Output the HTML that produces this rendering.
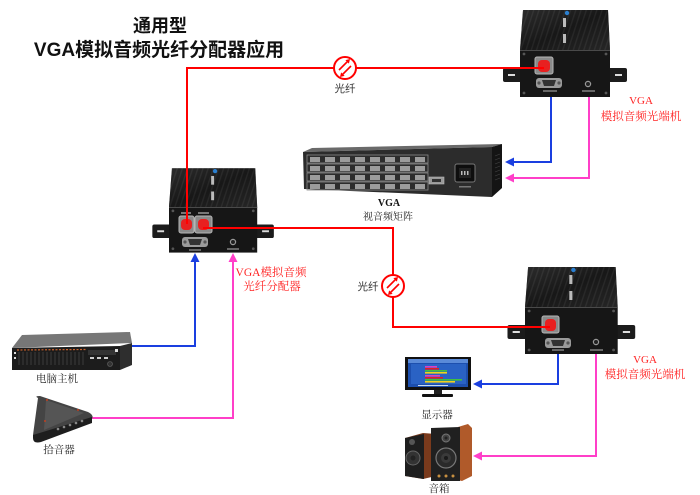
<!DOCTYPE html>
<html><head><meta charset="utf-8">
<style>
html,body{margin:0;padding:0;background:#fff;}
svg{display:block;}
.t{font-family:"Liberation Sans","Noto Sans CJK SC",sans-serif;}
.s{font-family:"Liberation Serif","Noto Serif CJK SC",serif;}
</style></head><body>
<svg width="700" height="495" viewBox="0 0 700 495" xmlns="http://www.w3.org/2000/svg">
<defs>
<linearGradient id="topg" x1="0" y1="0" x2="1" y2="1">
<stop offset="0" stop-color="#3a3a3a"/><stop offset="0.5" stop-color="#151515"/><stop offset="1" stop-color="#303030"/>
</linearGradient>
<pattern id="fins" width="5" height="5" patternUnits="userSpaceOnUse" patternTransform="rotate(18)">
<rect width="5" height="5" fill="#1a1a1a"/><rect width="1.4" height="5" fill="#383838"/>
</pattern>
<g id="dev">
 <rect x="-17" y="18" width="20" height="14" rx="2" fill="#1c1c1c"/>
 <rect x="-12" y="24" width="7" height="2" fill="#ddd"/>
 <rect x="87" y="18" width="20" height="14" rx="2" fill="#1c1c1c"/>
 <rect x="95" y="24" width="7" height="2" fill="#ddd"/>
 <polygon points="3,-40 88,-40 90,0 0,0" fill="url(#fins)"/>
 <polygon points="3,-40 88,-40 90,0 0,0" fill="url(#topg)" opacity="0.55"/>
 <rect x="0" y="0" width="90" height="47" fill="#161616"/>
 <line x1="0" y1="0.5" x2="90" y2="0.5" stroke="#4a4a4a"/>
 <circle cx="4" cy="4" r="1.4" fill="#555"/><circle cx="86" cy="4" r="1.4" fill="#555"/>
 <circle cx="4" cy="43" r="1.4" fill="#555"/><circle cx="86" cy="43" r="1.4" fill="#555"/>
 <circle cx="47" cy="-37" r="2.2" fill="#2a7fd0"/>
 <rect x="43" y="-32" width="3" height="9" fill="#bbb"/>
 <rect x="43" y="-16" width="3" height="9" fill="#bbb"/>
</g>
<g id="fib">
 <circle cx="0" cy="0" r="11" fill="#fff" stroke="#f00" stroke-width="2"/>
 <line x1="-6" y1="2" x2="3.5" y2="-7.5" stroke="#f00" stroke-width="1.6"/>
 <polygon points="5,-9 3.9,-4.4 0.4,-7.9" fill="#f00"/>
 <line x1="-3.5" y1="7.5" x2="6" y2="-2" stroke="#f00" stroke-width="1.6"/>
 <polygon points="-5,9 -0.4,7.9 -3.9,4.4" fill="#f00"/>
</g>
<g id="vga">
 <rect x="0" y="0" width="26" height="10" rx="3" fill="#9a9a9a"/>
 <polygon points="6,2 20,2 18,8 8,8" fill="#333"/>
 <circle cx="3" cy="5" r="1.6" fill="#555"/><circle cx="23" cy="5" r="1.6" fill="#555"/>
</g>
</defs>

<!-- Title -->
<text x="160" y="32" text-anchor="middle" class="t" font-size="18" font-weight="bold" fill="#111">通用型</text>
<text x="159" y="56" text-anchor="middle" class="t" font-size="19" font-weight="bold" fill="#111">VGA模拟音频光纤分配器应用</text>

<!-- blue / pink lines (under devices) -->
<g fill="none" stroke-width="2">
 <path d="M551,88 V162 H512" stroke="#1a3fe0"/>
 <path d="M589,84 V178 H512" stroke="#ff3fc8"/>
 <path d="M132,346 H195 V260" stroke="#1a3fe0"/>
 <path d="M92,418 H233 V260" stroke="#ff3fc8"/>
 <path d="M558,346 V384 H480" stroke="#1a3fe0"/>
 <path d="M596,342 V456 H480" stroke="#ff3fc8"/>
</g>
<polygon points="505,162 514,157.5 514,166.5" fill="#1a3fe0"/>
<polygon points="505,178 514,173.5 514,182.5" fill="#ff3fc8"/>
<polygon points="195,253 190.5,262 199.5,262" fill="#1a3fe0"/>
<polygon points="233,253 228.5,262 237.5,262" fill="#ff3fc8"/>
<polygon points="473,384 482,379.5 482,388.5" fill="#1a3fe0"/>
<polygon points="473,456 482,451.5 482,460.5" fill="#ff3fc8"/>

<!-- Top-right device -->
<use href="#dev" transform="translate(520,50)"/>
<rect x="535" y="57" width="18" height="17" rx="2" fill="#8a8a8a" stroke="#b5b5b5"/>
<rect x="538" y="60" width="12" height="12" rx="4" fill="#e82020"/>
<use href="#vga" transform="translate(536,78)"/>
<circle cx="588" cy="84" r="2.6" fill="#222" stroke="#999" stroke-width="1.2"/>
<rect x="543" y="90" width="14" height="2" fill="#666"/><rect x="582" y="90" width="13" height="2" fill="#666"/>

<!-- Center device -->
<use href="#dev" transform="translate(169,207) scale(0.98,0.97)"/>
<rect x="179" y="216" width="15" height="17" rx="2" fill="#8a8a8a" stroke="#b5b5b5"/>
<rect x="195" y="216" width="17" height="17" rx="2" fill="#8a8a8a" stroke="#b5b5b5"/>
<rect x="181" y="219" width="11" height="11" rx="4" fill="#e82020"/>
<rect x="198" y="219" width="11" height="11" rx="4" fill="#e82020"/>
<rect x="181" y="212" width="10" height="2" fill="#777"/><rect x="198" y="212" width="11" height="2" fill="#777"/>
<use href="#vga" transform="translate(182,237)"/>
<circle cx="233" cy="242" r="2.6" fill="#222" stroke="#999" stroke-width="1.2"/>
<rect x="189" y="249" width="12" height="2" fill="#666"/><rect x="227" y="248" width="12" height="2" fill="#666"/>

<!-- Bottom device -->
<use href="#dev" transform="translate(525,307) scale(1.03,1.0)"/>
<rect x="542" y="316" width="17" height="17" rx="2" fill="#8a8a8a" stroke="#b5b5b5"/>
<rect x="545" y="319" width="11" height="12" rx="4" fill="#e82020"/>
<use href="#vga" transform="translate(545,338)"/>
<circle cx="596" cy="342" r="2.6" fill="#222" stroke="#999" stroke-width="1.2"/>
<rect x="552" y="349" width="12" height="2" fill="#666"/><rect x="590" y="349" width="13" height="2" fill="#666"/>

<!-- Red fiber lines -->
<g fill="none" stroke="#f00" stroke-width="2">
 <path d="M187,224 V68 H544"/>
 <path d="M203,228 H393 V327 H550"/>
</g>
<use href="#fib" transform="translate(345,68)"/>
<use href="#fib" transform="translate(393,286)"/>
<text x="345" y="92" text-anchor="middle" class="t" font-size="10.5" fill="#333">光纤</text>
<text x="368" y="290" text-anchor="middle" class="t" font-size="10.5" fill="#333">光纤</text>

<!-- Matrix -->
<polygon points="303,152 312,148 502,144 492,147" fill="#6a6a6a"/>
<polygon points="303,152 492,147 492,197 304,189" fill="#2c2c2c"/>
<polygon points="492,147 502,144 502,188 492,197" fill="#141414"/>
<g stroke="#444" stroke-width="0.6">
 <line x1="495" y1="156" x2="500" y2="154"/><line x1="495" y1="160" x2="500" y2="158"/><line x1="495" y1="164" x2="500" y2="162"/>
 <line x1="495" y1="168" x2="500" y2="166"/><line x1="495" y1="172" x2="500" y2="170"/>
 <line x1="495" y1="176" x2="500" y2="174"/><line x1="495" y1="180" x2="500" y2="178"/>
</g>
<g fill="none" stroke="#8a8a8a" stroke-width="0.8">
 <rect x="307" y="155" width="121" height="8"/>
 <rect x="307" y="164" width="121" height="8"/>
 <rect x="307" y="173" width="121" height="8"/>
 <rect x="307" y="182" width="121" height="8"/>
</g>
<g fill="#9c9c9c">
 <rect x="310" y="157" width="10" height="5"/><rect x="325" y="157" width="10" height="5"/><rect x="340" y="157" width="10" height="5"/><rect x="355" y="157" width="10" height="5"/><rect x="370" y="157" width="10" height="5"/><rect x="385" y="157" width="10" height="5"/><rect x="400" y="157" width="10" height="5"/><rect x="415" y="157" width="10" height="5"/>
 <rect x="310" y="166" width="10" height="5"/><rect x="325" y="166" width="10" height="5"/><rect x="340" y="166" width="10" height="5"/><rect x="355" y="166" width="10" height="5"/><rect x="370" y="166" width="10" height="5"/><rect x="385" y="166" width="10" height="5"/><rect x="400" y="166" width="10" height="5"/><rect x="415" y="166" width="10" height="5"/>
 <rect x="310" y="175" width="10" height="5"/><rect x="325" y="175" width="10" height="5"/><rect x="340" y="175" width="10" height="5"/><rect x="355" y="175" width="10" height="5"/><rect x="370" y="175" width="10" height="5"/><rect x="385" y="175" width="10" height="5"/><rect x="400" y="175" width="10" height="5"/><rect x="415" y="175" width="10" height="5"/>
 <rect x="310" y="184" width="10" height="5"/><rect x="325" y="184" width="10" height="5"/><rect x="340" y="184" width="10" height="5"/><rect x="355" y="184" width="10" height="5"/><rect x="370" y="184" width="10" height="5"/><rect x="385" y="184" width="10" height="5"/><rect x="400" y="184" width="10" height="5"/><rect x="415" y="184" width="10" height="5"/>
</g>
<rect x="429" y="177" width="15" height="7" fill="#999" stroke="#bbb" stroke-width="0.6"/>
<rect x="432" y="179" width="9" height="3" fill="#333"/>
<rect x="455" y="164" width="20" height="18" rx="2" fill="#0e0e0e" stroke="#777"/>
<rect x="459" y="168" width="12" height="10" fill="#222"/>
<rect x="461" y="171" width="1.5" height="4" fill="#bbb"/><rect x="464" y="171" width="1.5" height="4" fill="#bbb"/><rect x="467" y="171" width="1.5" height="4" fill="#bbb"/>
<rect x="459" y="186" width="12" height="1.5" fill="#777"/>
<text x="389" y="206" text-anchor="middle" class="s" font-size="10" font-weight="bold" fill="#111">VGA</text>
<text x="388" y="220" text-anchor="middle" class="s" font-size="10" fill="#222">视音频矩阵</text>

<!-- Red labels -->
<text x="641" y="104" text-anchor="middle" class="s" font-size="11" fill="#f22">VGA</text>
<text x="641" y="120" text-anchor="middle" class="s" font-size="11.5" fill="#f22">模拟音频光端机</text>
<text x="271" y="276" text-anchor="middle" class="s" font-size="11.5" fill="#f22">VGA模拟音频</text>
<text x="272" y="290" text-anchor="middle" class="s" font-size="11.5" fill="#f22">光纤分配器</text>
<text x="645" y="363" text-anchor="middle" class="s" font-size="11" fill="#f22">VGA</text>
<text x="645" y="378" text-anchor="middle" class="s" font-size="11.5" fill="#f22">模拟音频光端机</text>

<!-- Server -->
<polygon points="22,335 130,332 132,343 12,348" fill="#777"/>
<polygon points="12,348 120,346 120,370 12,370" fill="#1c1c1c"/>
<polygon points="120,346 132,343 132,365 120,370" fill="#2e2e2e"/>
<line x1="17" y1="350" x2="86" y2="349.5" stroke="#c8602a" stroke-width="1.2" stroke-dasharray="2,1.5"/>
<g stroke="#444" stroke-width="0.8">
 <line x1="19" y1="352" x2="19" y2="365"/><line x1="23" y1="352" x2="23" y2="365"/><line x1="27" y1="352" x2="27" y2="365"/><line x1="31" y1="352" x2="31" y2="365"/><line x1="35" y1="352" x2="35" y2="365"/><line x1="39" y1="352" x2="39" y2="365"/><line x1="43" y1="352" x2="43" y2="365"/><line x1="47" y1="352" x2="47" y2="365"/><line x1="51" y1="352" x2="51" y2="365"/><line x1="55" y1="352" x2="55" y2="365"/><line x1="59" y1="352" x2="59" y2="365"/><line x1="63" y1="352" x2="63" y2="365"/><line x1="67" y1="352" x2="67" y2="365"/><line x1="71" y1="352" x2="71" y2="365"/><line x1="75" y1="352" x2="75" y2="365"/><line x1="79" y1="352" x2="79" y2="365"/><line x1="83" y1="352" x2="83" y2="365"/>
</g>
<rect x="14" y="352" width="2" height="2" fill="#ddd"/><rect x="14" y="357" width="2" height="2" fill="#ddd"/>
<rect x="88" y="350" width="28" height="5" fill="#333"/>
<rect x="90" y="357" width="4" height="2" fill="#ccc"/><rect x="97" y="357" width="4" height="2" fill="#ccc"/><rect x="104" y="357" width="4" height="2" fill="#ccc"/>
<rect x="115" y="349" width="3" height="3" fill="#ddd"/>
<circle cx="110" cy="364" r="2.5" fill="#333" stroke="#666" stroke-width="0.6"/>
<text x="57" y="382" text-anchor="middle" class="s" font-size="10.5" fill="#222">电脑主机</text>

<!-- Microphone -->
<path d="M38,398 Q34,396 40,396 L88,412 Q96,416 90,421 L41,440 Q33,443 33,435 Z" fill="#444"/>
<path d="M46,400 L84,413 L44,430 Z" fill="#555"/>
<path d="M33,435 L92,417 L92,423 L41,442 Q33,444 33,438 Z" fill="#1e1e1e"/>
<g fill="#888">
 <circle cx="58" cy="429" r="1.3"/><circle cx="64" cy="427" r="1.3"/><circle cx="70" cy="425" r="1.3"/><circle cx="76" cy="423" r="1.3"/><circle cx="82" cy="421" r="1.3"/>
</g>
<circle cx="47" cy="400" r="1" fill="#c04020"/><circle cx="78" cy="410" r="1" fill="#c04020"/><circle cx="45" cy="421" r="1" fill="#c04020"/>
<text x="59" y="453" text-anchor="middle" class="s" font-size="10.5" fill="#222">拾音器</text>

<!-- Monitor -->
<rect x="405" y="357" width="66" height="33" fill="#111"/>
<rect x="408" y="359" width="60" height="28" fill="#1d4fae"/>
<rect x="408" y="359" width="60" height="4" fill="#5a8ad8"/>
<rect x="411" y="364" width="55" height="20" fill="#2a62c4"/>
<rect x="425" y="366" width="12" height="1.6" fill="#e040c0"/>
<rect x="425" y="368" width="14" height="1.6" fill="#e02020"/>
<rect x="425" y="370" width="22" height="1.6" fill="#40c040"/>
<rect x="425" y="372" width="22" height="1.6" fill="#f0d020"/>
<rect x="425" y="375" width="15" height="1.6" fill="#e040c0"/>
<rect x="425" y="377" width="18" height="1.6" fill="#e02020"/>
<rect x="425" y="379" width="37" height="1.6" fill="#40c040"/>
<rect x="425" y="381" width="30" height="1.6" fill="#f0d020"/>
<rect x="418" y="385" width="30" height="1" fill="#cde"/>
<rect x="434" y="390" width="8" height="5" fill="#222"/>
<rect x="422" y="394" width="31" height="3" rx="1" fill="#111"/>
<text x="437" y="418" text-anchor="middle" class="s" font-size="10.5" fill="#222">显示器</text>

<!-- Speakers -->
<polygon points="405,438 423,433 436,434 436,476 423,479 405,476" fill="#7a3a1c"/>
<polygon points="405,438 424,434 424,479 405,476" fill="#1e1e1e"/>
<circle cx="412" cy="442" r="3" fill="#555"/>
<circle cx="413" cy="458" r="7" fill="#333" stroke="#666"/><circle cx="413" cy="458" r="2.5" fill="#222"/>
<polygon points="458,427 468,424 472,428 472,476 462,481 458,480" fill="#b05a2a"/>
<polygon points="431,428 460,427 460,481 431,481" fill="#202020"/>
<circle cx="446" cy="438" r="4" fill="#444" stroke="#777"/><circle cx="446" cy="438" r="1.5" fill="#222"/>
<circle cx="446" cy="458" r="10" fill="#2a2a2a" stroke="#777" stroke-width="1.2"/><circle cx="446" cy="458" r="5" fill="#3a3a3a"/><circle cx="446" cy="458" r="2" fill="#1a1a1a"/>
<circle cx="439" cy="476" r="1.5" fill="#c89040"/><circle cx="446" cy="476" r="1.5" fill="#c89040"/><circle cx="453" cy="476" r="1.5" fill="#c89040"/>
<text x="439" y="492" text-anchor="middle" class="s" font-size="10.5" fill="#222">音箱</text>
</svg>
</body></html>
